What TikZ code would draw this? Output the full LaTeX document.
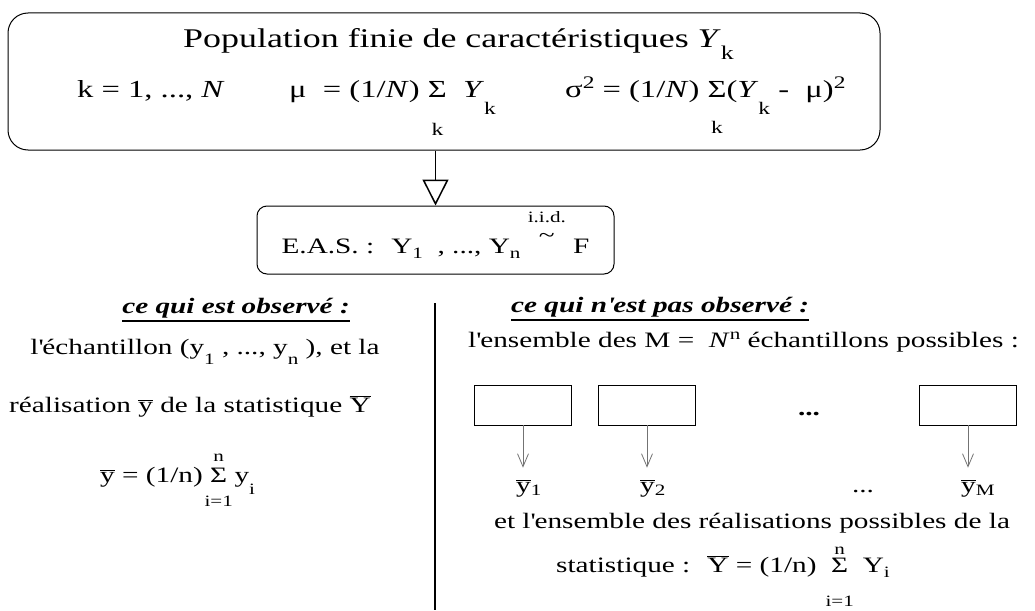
\documentclass[tikz,border=0pt]{standalone}
\usepackage{fontspec}
\setmainfont{Liberation Serif}[FakeStretch=1.33]
\usetikzlibrary{arrows.meta,positioning}

\makeatletter
\newcommand\smallsz{\fontsize{\fpeval{0.72*\f@size}}{0}\selectfont}
\makeatother
\newcommand\lo[2]{\raisebox{-#1}{\smallsz #2}}
\newcommand\hi[2]{\raisebox{#1}{\smallsz #2}}
\newcommand\sumlim[4]{\hbox{\ooalign{Σ\cr\hidewidth\lo{#1}{#3}\hidewidth\cr\hidewidth\hi{#2}{#4}\hidewidth\cr}}}
\newcommand\barred[1]{\ensuremath{\overline{\hbox{#1}}}}
\newcommand\iidsim{\hbox{\ooalign{\hi{31pt}{i.i.d.}\cr\hidewidth\raisebox{11pt}{\textasciitilde}\hidewidth\cr}}}
\newcommand\ap{\textquotesingle}

\begin{document}
\begin{tikzpicture}[x=1pt,y=-1pt,>=Stealth,
  font=\fontsize{22}{26}\selectfont,
  txt/.style={inner sep=0pt,anchor=base west},
  ctxt/.style={inner sep=0pt,anchor=base},
  bigtxt/.style={txt,font=\fontsize{27}{32}\selectfont},
  eqtxt/.style={txt,font=\fontsize{24.5}{29}\selectfont},
  head/.style={txt,font=\fontsize{22}{26}\selectfont\bfseries\itshape},
  sample/.style={draw,line width=0.8pt,minimum width=97pt,minimum height=40pt,inner sep=0pt},
  thin/.style={draw=black!55,line width=0.8pt,-{Straight Barb[length=13pt,width=11pt]}}]
  \useasboundingbox (0,0) rectangle (1035,610);

  % population
  \node[draw,line width=1pt,rounded corners=20pt,minimum width=872pt,minimum height=137pt] (pop) at (444,81.5) {};
  \node[bigtxt] (popline) at (183,48) {Population finie de caractéristiques \textit{Y}\lo{12pt}{k}};
  \node[eqtxt] (kline) at (77,97) {k = 1, ..., \textit{N}};
  \node[eqtxt] (mudef) at (289,97) {μ~ = (1/\textit{N}) \sumlim{38pt}{0pt}{k}{}~ \textit{Y}\lo{17pt}{k}};
  \node[eqtxt] (sigdef) at (565,97) {σ\hi{9pt}{2} = (1/\textit{N}) \sumlim{36pt}{0pt}{k}{}(\textit{Y}\lo{17pt}{k} -~ μ)\hi{9pt}{2}};

  % sample
  \node[draw,line width=1pt,rounded corners=10pt,minimum width=357pt,minimum height=68pt,
        text height=30pt,text depth=4pt,inner sep=0pt] (eas) at (435.5,240)
    {E.A.S. :~ Y\lo{5pt}{1}~ , ..., Y\lo{5pt}{n} \iidsim{} F};
  \draw[line width=1.5pt,-{Triangle[open,length=26pt,width=26pt]}] (eas.north |- pop.south) -- (eas.north);

  \draw[line width=2pt] (435,303) -- (435,610);

  % observed
  \node[head,anchor=base east] (obshead) at (350,313) {ce qui est observé :};
  \draw[line width=2pt] ([yshift=-8pt]obshead.base west) -- ([yshift=-8pt]obshead.base east);
  \node[ctxt] (echline) at (205,354) {l\ap échantillon (y\lo{10pt}{1} , ..., y\lo{10pt}{n} ), et la};
  \node[ctxt] (realline) at (190,412) {réalisation \barred{y} de la statistique \barred{Y}};
  \node[txt] (ybarform) at (100,482) {\barred{y} = (1/n) \sumlim{24pt}{21pt}{i=1}{n} y\lo{12pt}{i}};

  % not observed
  \node[head] (nobshead) at (511,312) {ce qui n\ap est pas observé :};
  \draw[line width=2pt] ([yshift=-8pt]nobshead.base west) -- ([yshift=-8pt]nobshead.base east);
  \node[txt] (ensline) at (468,347) {l\ap ensemble des M =~ \textit{N}\hi{8pt}{n} échantillons possibles :};

  \node[sample] (s1) at (523,405) {};
  \node[sample] (s2) at (647,405) {};
  \node[sample] (sM) at (968,405) {};
  \node[ctxt] (sdots) at (809,415) {\textbf{...}};

  \node[txt] (yb1) at (516,492) {\barred{y}\lo{3pt}{1}};
  \node[txt] (yb2) at (640,492) {\barred{y}\lo{3pt}{2}};
  \node[ctxt] (ybdots) at (863,492) {...};
  \node[txt] (ybM) at (961,492) {\barred{y}\lo{3pt}{M}};
  \draw[thin,shorten >=12pt] (s1.south) -- (s1.south |- yb1.north);
  \draw[thin,shorten >=12pt] (s2.south) -- (s2.south |- yb2.north);
  \draw[thin,shorten >=12pt] (sM.south) -- (sM.south |- ybM.north);

  \node[ctxt] (etline) at (752,528) {et l\ap ensemble des réalisations possibles de la};
  \node[txt] (statline) at (556,572) {statistique :~ \barred{Y} = (1/n)~ \sumlim{34pt}{18pt}{i=1}{n}~ Y\lo{5pt}{i}};
\end{tikzpicture}
\end{document}
